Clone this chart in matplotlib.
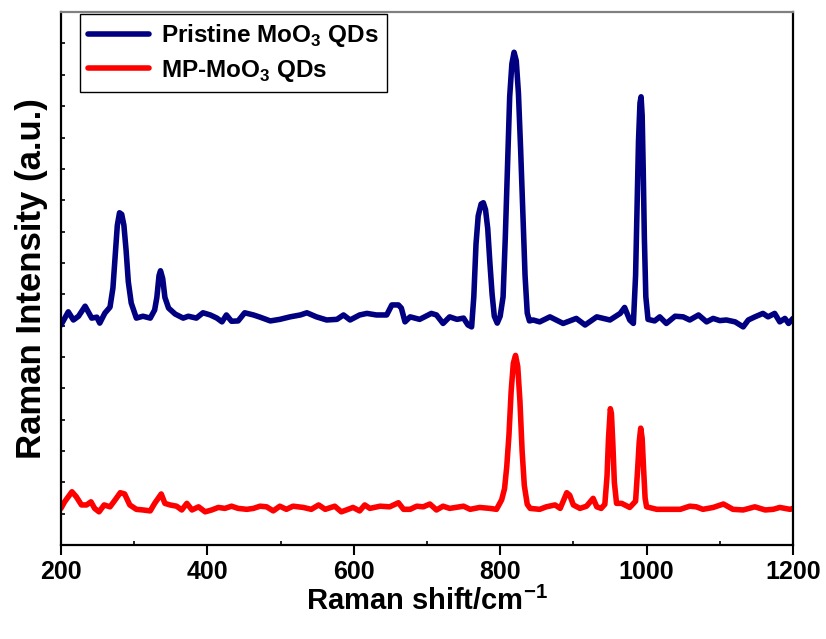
import matplotlib
matplotlib.use("Agg")
import matplotlib.pyplot as plt
import numpy as np

# Raman shift (cm^-1) and intensity
pristine_x = [200, 210, 217, 224, 233, 242, 249, 253, 260, 267, 271, 274, 277, 280, 283, 286,
              289, 292, 296, 303, 312, 322, 328, 331, 334, 336, 339, 342, 347, 356, 367, 374,
              385, 394, 404, 413, 420, 426, 433, 442, 451, 463, 472, 486, 499, 513, 527, 536,
              549, 563, 577, 586, 595, 608, 618, 631, 645, 652, 661, 665, 670, 677, 690, 706,
              713, 722, 731, 741, 750, 756, 761, 764, 767, 770, 774, 777, 780, 783, 786, 789,
              792, 796, 800, 804, 807, 810, 813, 816, 819, 822, 825, 828, 831, 834, 837, 840,
              845, 854, 868, 886, 904, 916, 932, 950, 964, 970, 977, 982, 985, 987, 989, 991,
              992.5, 994, 995.5, 997, 999, 1002, 1011, 1018, 1027, 1039, 1050, 1059, 1071,
              1082, 1091, 1100, 1109, 1121, 1132, 1139, 1148, 1159, 1166, 1175, 1182, 1189,
              1194, 1200]
pristine_y = [7.02, 7.44, 7.18, 7.30, 7.62, 7.24, 7.27, 7.08, 7.40, 7.59, 8.2, 9.19, 10.2, 10.6,
              10.55, 10.2, 9.4, 8.4, 7.72, 7.24, 7.30, 7.24, 7.50, 7.9, 8.6, 8.75, 8.5, 7.9,
              7.56, 7.37, 7.24, 7.30, 7.24, 7.41, 7.34, 7.24, 7.12, 7.34, 7.14, 7.15, 7.41,
              7.34, 7.27, 7.15, 7.20, 7.28, 7.34, 7.41, 7.28, 7.18, 7.20, 7.34, 7.18, 7.34,
              7.39, 7.34, 7.34, 7.66, 7.66, 7.56, 7.12, 7.28, 7.20, 7.39, 7.34, 7.07, 7.28,
              7.20, 7.24, 7.02, 6.96, 7.92, 9.6, 10.5, 10.88, 10.92, 10.7, 10.1, 8.99, 8.0,
              7.3, 7.08, 7.3, 7.92, 9.8, 12.0, 14.3, 15.35, 15.72, 15.45, 14.4, 12.6, 10.6,
              8.6, 7.4, 7.15, 7.18, 7.12, 7.28, 7.07, 7.23, 7.02, 7.28, 7.18, 7.39, 7.58, 7.18,
              7.07, 8.6, 10.8, 12.9, 14.1, 14.3, 13.7, 11.9, 9.8, 7.92, 7.2, 7.15, 7.28, 7.07,
              7.30, 7.28, 7.18, 7.34, 7.12, 7.23, 7.16, 7.18, 7.12, 6.96, 7.18, 7.28, 7.39,
              7.28, 7.39, 7.12, 7.23, 7.07, 7.23]

mp_x = [200, 205, 215, 221, 228, 235, 241, 246, 252, 259, 267, 274, 281, 287, 294, 303, 312,
        322, 328, 337, 342, 349, 358, 365, 372, 379, 388, 397, 406, 415, 424, 433, 442, 454,
        463, 472, 481, 490, 499, 508, 517, 531, 542, 552, 561, 574, 583, 590, 599, 608, 615,
        622, 636, 649, 661, 668, 677, 686, 695, 704, 713, 722, 731, 750, 759, 772, 786, 795,
        802, 806, 809, 812, 815, 818, 821, 824, 827, 830, 833, 837, 841, 854, 863, 875, 882,
        891, 895, 900, 909, 918, 927, 932, 938, 943, 946, 948, 950.5, 952, 954, 956, 959,
        966, 977, 985, 987.5, 990, 992, 994, 996, 998, 1000, 1014, 1032, 1046, 1059, 1068,
        1077, 1091, 1105, 1118, 1132, 1148, 1162, 1173, 1182, 1196, 1200]
mp_y = [1.17, 1.38, 1.70, 1.54, 1.28, 1.28, 1.38, 1.17, 1.06, 1.28, 1.22, 1.44, 1.67, 1.63,
        1.28, 1.14, 1.12, 1.09, 1.33, 1.63, 1.33, 1.28, 1.24, 1.12, 1.33, 1.12, 1.22, 1.06,
        1.12, 1.20, 1.17, 1.24, 1.17, 1.14, 1.17, 1.24, 1.22, 1.09, 1.24, 1.14, 1.24, 1.20,
        1.14, 1.28, 1.14, 1.24, 1.06, 1.12, 1.20, 1.09, 1.28, 1.17, 1.24, 1.22, 1.35, 1.14,
        1.14, 1.24, 1.22, 1.31, 1.12, 1.24, 1.17, 1.24, 1.14, 1.20, 1.17, 1.14, 1.44, 1.8,
        2.5, 3.5, 4.9, 5.8, 6.05, 5.7, 4.6, 3.0, 1.9, 1.3, 1.17, 1.14, 1.22, 1.28, 1.17,
        1.67, 1.59, 1.28, 1.17, 1.24, 1.49, 1.22, 1.17, 1.3, 2.2, 3.4, 4.35, 4.2, 3.2, 2.0,
        1.33, 1.33, 1.20, 1.4, 2.3, 3.3, 3.73, 3.4, 2.4, 1.5, 1.22, 1.14, 1.14, 1.14, 1.24,
        1.22, 1.14, 1.20, 1.31, 1.14, 1.12, 1.22, 1.12, 1.14, 1.20, 1.14, 1.17]

labels = [r"Pristine MoO$_{\mathbf{3}}$ QDs", r"MP-MoO$_{\mathbf{3}}$ QDs"]
x_ticks = [200, 400, 600, 800, 1000, 1200]

plt.rcParams["font.family"] = ["Liberation Sans", "DejaVu Sans"]
plt.rcParams["font.weight"] = "bold"
plt.rcParams["mathtext.fontset"] = "custom"
plt.rcParams["mathtext.rm"] = "Liberation Sans:bold"
plt.rcParams["mathtext.bf"] = "Liberation Sans:bold"

fig, ax = plt.subplots(figsize=(8.26, 6.39), dpi=100)
fig.subplots_adjust(left=0.0738, right=0.960, top=0.981, bottom=0.147)

ax.plot(pristine_x, pristine_y, color="#000080", linewidth=4.0, label=labels[0],
        solid_joinstyle="round", solid_capstyle="round")
ax.plot(mp_x, mp_y, color="#ff0000", linewidth=4.0, label=labels[1],
        solid_joinstyle="round", solid_capstyle="round")

ax.set_xlim(200, 1200)
ax.set_ylim(0, 17)
ax.set_xticks(x_ticks)
ax.set_xticks(np.arange(300, 1200, 200), minor=True)
ax.set_yticks(np.arange(1, 17))
ax.set_yticklabels([])
ax.tick_params(axis="x", which="major", direction="out", length=7, width=1.5,
               labelsize=18, pad=4)
ax.tick_params(axis="x", which="minor", direction="in", length=3, width=1.2)
ax.tick_params(axis="y", which="major", direction="in", length=3, width=1.2)
for lab in ax.get_xticklabels():
    lab.set_fontweight("bold")

for side in ["left", "bottom", "right"]:
    ax.spines[side].set_linewidth(1.6)
    ax.spines[side].set_color("black")
ax.spines["top"].set_linewidth(1.6)
ax.spines["top"].set_color("#808080")

ax.set_xlabel("Raman shift/cm$^{\\mathbf{-1}}$", fontsize=21, fontweight="bold", labelpad=2)
ax.set_ylabel("Raman Intensity (a.u.)", fontsize=25, fontweight="bold", labelpad=6)

leg = ax.legend(loc="upper left", bbox_to_anchor=(0.026, 0.997), fontsize=17.5,
                frameon=True, fancybox=False, edgecolor="black", framealpha=1,
                handlelength=2.5, handletextpad=0.5, labelspacing=0.35,
                borderpad=0.35, borderaxespad=0)
leg.get_frame().set_linewidth(1.0)
for t in leg.get_texts():
    t.set_fontweight("bold")

fig.savefig("out.png", dpi=100)
